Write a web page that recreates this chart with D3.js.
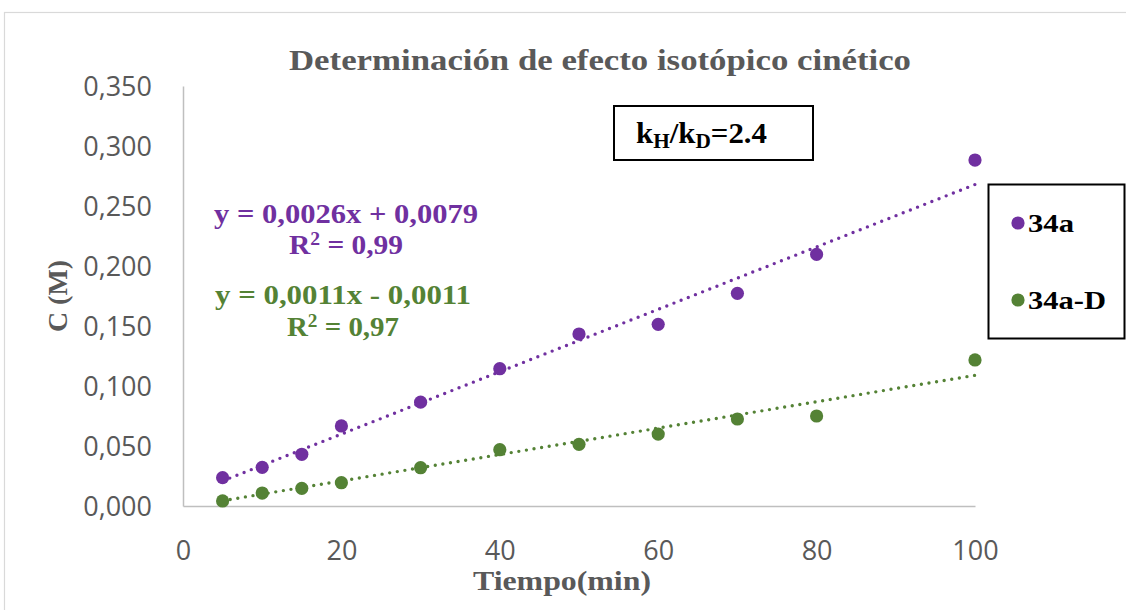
<!DOCTYPE html>
<html>
<head>
<meta charset="utf-8">
<script src="https://cdn.jsdelivr.net/npm/d3@7"></script>
<style>
  html, body { margin: 0; padding: 0; background: #ffffff; }
  svg { display: block; }
</style>
</head>
<body>
<svg id="chart" width="1126" height="610"></svg>
<script>
// Reaction time (min) and product concentration (M) for the H and D substrates
const times = [5, 10, 15, 20, 30, 40, 50, 60, 70, 80, 100];
const conc34a = [0.0236, 0.0322, 0.0431, 0.0667, 0.0865, 0.1144, 0.1433, 0.1514, 0.1772, 0.2097, 0.2883];
const conc34aD = [0.0042, 0.0108, 0.0147, 0.0194, 0.0319, 0.0469, 0.0514, 0.0599, 0.0725, 0.0750, 0.1217];

// Linear fits (slope, intercept) and R² as reported
const seriesNames = ["34a", "34a-D"];
const fitSlopes = [0.0026, 0.0011];
const fitIntercepts = [0.0079, -0.0011];
const fitR2 = [0.99, 0.97];

// Axis ticks
const xTicks = [0, 20, 40, 60, 80, 100];
const yTicks = [0, 0.05, 0.10, 0.15, 0.20, 0.25, 0.30, 0.35];

const colors = ["#7030a0", "#548235"];
const axisGray = "#595959";
const serif = "'Liberation Serif', 'DejaVu Serif', serif";
const sans = "'Open Sans', 'Liberation Sans', sans-serif";

const svg = d3.select("#chart");

// Outer chart frame
svg.append("rect")
  .attr("x", 4.5).attr("y", 12.5)
  .attr("width", 1200).attr("height", 700)
  .attr("fill", "#ffffff")
  .attr("stroke", "#d9d9d9").attr("stroke-width", 1.2);

const x = d3.scaleLinear().domain([0, 100]).range([183, 975]);
const y = d3.scaleLinear().domain([0, 0.35]).range([506, 86]);

const fmtY = v => d3.format(".3f")(v).replace(".", ",");

// Y axis
const gy = svg.append("g")
  .attr("transform", `translate(${x(0)},0)`)
  .call(d3.axisLeft(y).tickValues(yTicks).tickFormat(fmtY).tickSize(0).tickSizeOuter(0).tickPadding(31));
gy.select(".domain").attr("stroke", "#bfbfbf").attr("stroke-width", 1.5);
gy.selectAll("text")
  .attr("font-family", sans).attr("font-size", 27).attr("fill", axisGray)
  .attr("dy", "0.36em");

// X axis
const gx = svg.append("g")
  .attr("transform", `translate(0,${y(0)})`)
  .call(d3.axisBottom(x).tickValues(xTicks).tickFormat(d3.format("d")).tickSize(0).tickSizeOuter(0));
gx.select(".domain").attr("stroke", "#bfbfbf").attr("stroke-width", 1.5);
gx.selectAll("text")
  .attr("font-family", sans).attr("font-size", 27).attr("fill", axisGray)
  .attr("y", 54).attr("dy", 0);

// Title
svg.append("text")
  .attr("x", 600).attr("y", 70)
  .attr("text-anchor", "middle")
  .attr("font-family", serif).attr("font-weight", "bold").attr("font-size", 29)
  .attr("fill", axisGray)
  .attr("textLength", 622).attr("lengthAdjust", "spacingAndGlyphs")
  .text("Determinación de efecto isotópico cinético");

// Axis titles
svg.append("text")
  .attr("transform", "translate(67,296) rotate(-90)")
  .attr("text-anchor", "middle")
  .attr("font-family", serif).attr("font-weight", "bold").attr("font-size", 27)
  .attr("fill", axisGray)
  .attr("textLength", 72).attr("lengthAdjust", "spacingAndGlyphs")
  .text("C (M)");

svg.append("text")
  .attr("x", 562).attr("y", 590)
  .attr("text-anchor", "middle")
  .attr("font-family", serif).attr("font-weight", "bold").attr("font-size", 28)
  .attr("fill", axisGray)
  .attr("textLength", 178).attr("lengthAdjust", "spacingAndGlyphs")
  .text("Tiempo(min)");

const seriesValues = [conc34a, conc34aD];

// Dotted trendlines over the measured time range
const tMin = d3.min(times), tMax = d3.max(times);
seriesValues.forEach((vals, i) => {
  const f = t => fitSlopes[i] * t + fitIntercepts[i];
  svg.append("line")
    .attr("x1", x(tMin)).attr("y1", y(f(tMin)))
    .attr("x2", x(tMax)).attr("y2", y(f(tMax)))
    .attr("stroke", colors[i]).attr("stroke-width", 3.4)
    .attr("stroke-linecap", "round")
    .attr("stroke-dasharray", "0 7.7");
});

// Data points
seriesValues.forEach((vals, i) => {
  svg.append("g").selectAll("circle")
    .data(times.map((t, j) => [t, vals[j]]))
    .join("circle")
    .attr("cx", d => x(d[0])).attr("cy", d => y(d[1]))
    .attr("r", 6.6)
    .attr("fill", colors[i]);
});

// Fit equations
const fmtCoef = v => d3.format(".4f")(Math.abs(v)).replace(".", ",");
const fmtR = v => d3.format(".2f")(v).replace(".", ",");
const eqLayout = [
  { x: 214, y: 223, w: 264, rx: 289, ry: 254, rw: 114 },
  { x: 215, y: 304, w: 256, rx: 287, ry: 336, rw: 112 }
];
eqLayout.forEach((p, i) => {
  const sign = fitIntercepts[i] < 0 ? " - " : " + ";
  svg.append("text")
    .attr("x", p.x).attr("y", p.y)
    .attr("font-family", serif).attr("font-weight", "bold").attr("font-size", 27)
    .attr("fill", colors[i])
    .attr("textLength", p.w).attr("lengthAdjust", "spacingAndGlyphs")
    .text(`y = ${fmtCoef(fitSlopes[i])}x${sign}${fmtCoef(fitIntercepts[i])}`);
  const r = svg.append("text")
    .attr("x", p.rx).attr("y", p.ry)
    .attr("font-family", serif).attr("font-weight", "bold").attr("font-size", 27)
    .attr("fill", colors[i])
    .attr("textLength", p.rw).attr("lengthAdjust", "spacingAndGlyphs");
  r.append("tspan").text("R");
  r.append("tspan").attr("font-size", 18).attr("dy", -9).text("2");
  r.append("tspan").attr("dy", 9).text(` = ${fmtR(fitR2[i])}`);
});

// Isotope effect box
svg.append("rect")
  .attr("x", 614).attr("y", 106).attr("width", 199).attr("height", 54)
  .attr("fill", "#ffffff").attr("stroke", "#000000").attr("stroke-width", 2);
const kie = svg.append("text")
  .attr("x", 636).attr("y", 143)
  .attr("font-family", serif).attr("font-weight", "bold").attr("font-size", 29)
  .attr("fill", "#000000")
  .attr("textLength", 131).attr("lengthAdjust", "spacingAndGlyphs");
kie.append("tspan").text("k");
kie.append("tspan").attr("font-size", 20).attr("dy", 5).text("H");
kie.append("tspan").attr("dy", -5).text("/k");
kie.append("tspan").attr("font-size", 20).attr("dy", 5).text("D");
kie.append("tspan").attr("dy", -5).text("=2.4");

// Legend
svg.append("rect")
  .attr("x", 988.5).attr("y", 184.5).attr("width", 136).attr("height", 154)
  .attr("fill", "#ffffff").attr("stroke", "#000000").attr("stroke-width", 2);
const legendRows = [223, 300];
const legendWidths = [46, 78];
seriesNames.forEach((name, i) => {
  svg.append("circle")
    .attr("cx", 1018).attr("cy", legendRows[i]).attr("r", 6.6)
    .attr("fill", colors[i]);
  svg.append("text")
    .attr("x", 1028).attr("y", legendRows[i] + 9)
    .attr("font-family", serif).attr("font-weight", "bold").attr("font-size", 26)
    .attr("fill", "#000000")
    .attr("textLength", legendWidths[i]).attr("lengthAdjust", "spacingAndGlyphs")
    .text(name);
});
</script>
</body>
</html>
